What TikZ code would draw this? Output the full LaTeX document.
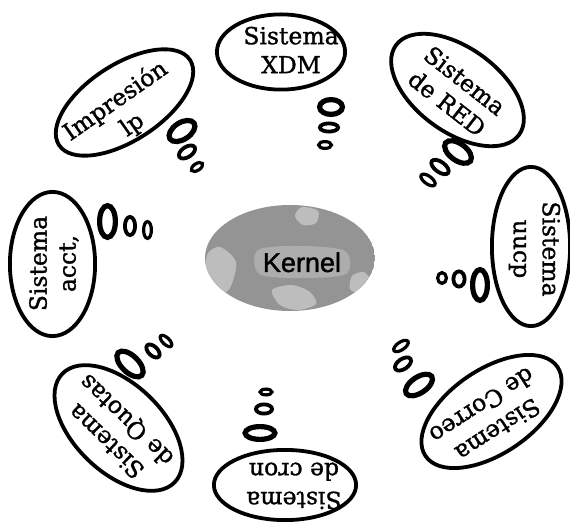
\documentclass[tikz,border=0pt]{standalone}
\usepackage{fontspec}
\setmainfont{DejaVu Serif}
\newfontfamily\bubfont{DejaVu Serif}[FakeBold=1.2]
\newfontfamily\kernelfont{Liberation Sans}[FakeBold=1.5]
\begin{document}
\begin{tikzpicture}[x=1pt,y=-1pt,
  txt/.style={align=center, font=\bubfont\fontsize{23.5}{29}\selectfont, inner sep=0pt},
  outl/.style={line width=3.8pt},
  ringA/.style={line width=5.2pt},
  ringB/.style={line width=3.8pt},
  ringC/.style={line width=3.2pt},
  blob/.style={fill=black!26}]
\useasboundingbox (0,0) rectangle (570,529);

% Kernel
\begin{scope}
\clip (290,258) ellipse [x radius=85, y radius=53];
\fill[black!42] (290,258) ellipse [x radius=85, y radius=53];
\fill[blob] plot[smooth cycle] coordinates {(207,255) (220,247) (236,262) (230,288) (216,296) (206,283)};
\fill[blob] plot[smooth cycle] coordinates {(272,290) (292,285) (310,292) (316,304) (298,310) (280,305)};
\fill[blob] plot[smooth cycle] coordinates {(302,207) (318,211) (316,223) (303,225) (295,216)};
\fill[blob] plot[smooth cycle] coordinates {(352,276) (364,272) (371,283) (360,293) (350,289)};
\fill[black!32] plot[smooth cycle] coordinates {(258,250) (300,246) (345,251) (346,274) (300,278) (259,274)};
\end{scope}
\node[font=\kernelfont\fontsize{27}{30}\selectfont, anchor=base, inner sep=0pt] (kernel) at (302,272) {Kernel};

% XDM
\draw[outl] (281,52) ellipse [x radius=64.1, y radius=37.6];
\node[txt] (xdm) at (291,50) {Sistema\\XDM};
\draw[ringA] (331,107) ellipse [x radius=11.4, y radius=7.4];
\draw[ringB] (329,127.5) ellipse [x radius=9.1, y radius=4.1];
\draw[ringC] (325,145) ellipse [x radius=6.4, y radius=3.4];

% Impresion
\draw[outl, rotate around={33:(124.5,102.5)}] (124.5,102.5) ellipse [x radius=78.1, y radius=38.1];
\node[txt, rotate=35] (imp) at (124,113) {Impresión\\lp};
\draw[ringA, rotate around={33:(182,131)}] (182,131) ellipse [x radius=14.4, y radius=8.4];
\draw[ringB, rotate around={33:(187,152)}] (187,152) ellipse [x radius=9.1, y radius=5.1];
\draw[ringC, rotate around={33:(197,167)}] (197,167) ellipse [x radius=6.4, y radius=3.4];

% RED
\draw[outl, rotate around={-36:(457.5,90)}] (457.5,90) ellipse [x radius=76.1, y radius=42.1];
\node[txt, rotate=-38] (red) at (456,92) {Sistema\\de RED};
\draw[ringA, rotate around={-36:(458,152)}] (458,152) ellipse [x radius=15.4, y radius=8.4];
\draw[ringB, rotate around={-36:(440,167)}] (440,167) ellipse [x radius=10.1, y radius=5.1];
\draw[ringC, rotate around={-36:(428,180)}] (428,180) ellipse [x radius=8.4, y radius=3.9];

% uucp
\draw[outl, rotate around={-90:(531,246.5)}] (531,246.5) ellipse [x radius=79.6, y radius=39.1];
\node[txt, rotate=-90] (uucp) at (534.5,249) {Sistema\\uucp};
\draw[ringA, rotate around={-90:(480,285)}] (480,285) ellipse [x radius=15.4, y radius=7.4];
\draw[ringB, rotate around={-90:(459,279)}] (459,279) ellipse [x radius=7.6, y radius=5.6];
\draw[ringC, rotate around={-90:(442,278)}] (442,278) ellipse [x radius=5.4, y radius=4.4];

% Correo
\draw[outl, rotate around={214:(491.5,411.5)}] (491.5,411.5) ellipse [x radius=79.6, y radius=42.1];
\node[txt, rotate=213] (correo) at (490,418) {Sistema\\de Correo};
\draw[ringA, rotate around={214:(419,385)}] (419,385) ellipse [x radius=15.4, y radius=7.9];
\draw[ringB, rotate around={214:(403,364)}] (403,364) ellipse [x radius=9.1, y radius=5.1];
\draw[ringC, rotate around={214:(401,346)}] (401,346) ellipse [x radius=8.4, y radius=3.9];

% cron
\draw[outl] (285,485) ellipse [x radius=71.1, y radius=35.1];
\node[txt, rotate=180] (cron) at (294,486) {Sistema\\de cron};
\draw[ringA] (260,433) ellipse [x radius=14.9, y radius=6.4];
\draw[ringB] (264,409) ellipse [x radius=8.1, y radius=4.6];
\draw[ringC] (266,392) ellipse [x radius=5.9, y radius=2.9];

% Quotas
\draw[outl, rotate around={136:(118.5,428)}] (118.5,428) ellipse [x radius=78.1, y radius=44.1];
\node[txt, rotate=136] (quotas) at (117,430) {Sistema\\de Quotas};
\draw[ringA, rotate around={136:(130,364)}] (130,364) ellipse [x radius=16.4, y radius=8.4];
\draw[ringB, rotate around={136:(153,351)}] (153,351) ellipse [x radius=8.1, y radius=4.6];
\draw[ringC, rotate around={136:(166,341)}] (166,341) ellipse [x radius=7.4, y radius=3.4];

% acct
\draw[outl, rotate around={90:(52.5,264)}] (52.5,264) ellipse [x radius=72.1, y radius=42.6];
\node[txt, rotate=90] (acct) at (54,263.5) {Sistema\\acct,};
\draw[ringA, rotate around={90:(107.5,221.5)}] (107.5,221.5) ellipse [x radius=15.9, y radius=7.9];
\draw[ringB, rotate around={90:(130,226)}] (130,226) ellipse [x radius=9.1, y radius=5.1];
\draw[ringC, rotate around={90:(147.5,230)}] (147.5,230) ellipse [x radius=8.4, y radius=3.9];
\end{tikzpicture}
\end{document}
